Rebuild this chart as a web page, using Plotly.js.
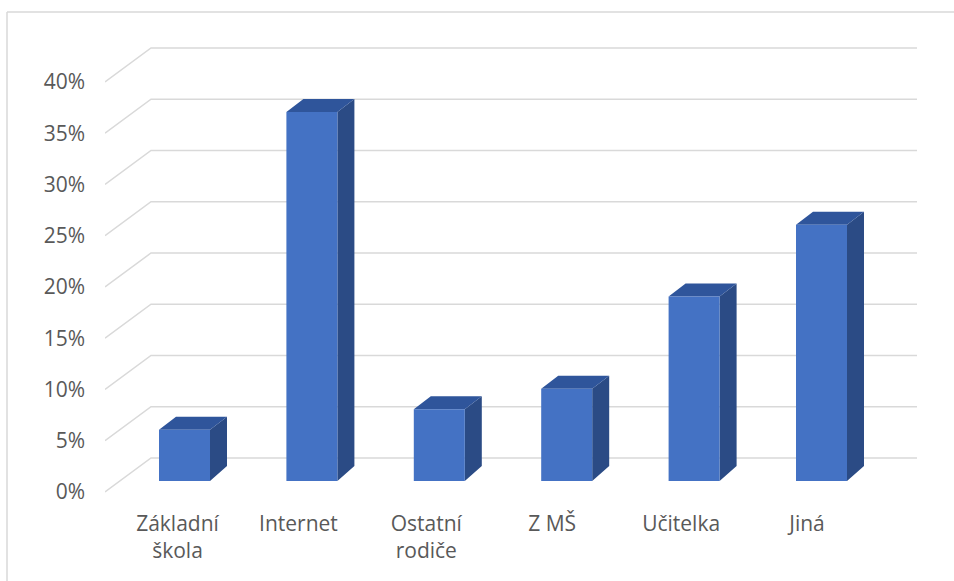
<!DOCTYPE html>
<html>
<head>
<meta charset="utf-8">
<script src="https://cdn.plot.ly/plotly-3.0.1.min.js"></script>
<style>html,body{margin:0;padding:0;background:#fff;}#chart{width:954px;height:581px;}</style>
</head>
<body>
<div id="chart"></div>
<script>
// ---- data ----
var categories = ["Základní<br>škola", "Internet", "Ostatní<br>rodiče", "Z MŠ", "Učitelka", "Jiná"];
var values = [0.05, 0.36, 0.07, 0.09, 0.18, 0.25];
var tickValues = [0, 0.05, 0.10, 0.15, 0.20, 0.25, 0.30, 0.35, 0.40];
var tickLabels = ["0%", "5%", "10%", "15%", "20%", "25%", "30%", "35%", "40%"];

// ---- geometry (pixel based conversions) ----
var W = 954, H = 581;
var mL = 105, mR = 37, mT = 40, mB = 81;
var pxPerX = 127.4, x0px = 184.5;      // category index -> px
var pxPerY = 1025, y0px = 481;         // value -> px (front plane of bars)
var xRange = [(mL - x0px) / pxPerX, (W - mR - x0px) / pxPerX];
var yRange = [(y0px - (H - mB)) / pxPerY, (y0px - mT) / pxPerY];
function dX(px) { return px / pxPerX; }
function dY(px) { return px / pxPerY; }

var barW = dX(51), depthX = dX(17), depthTop = dY(13), depthBot = dY(15);
var wallFrontY = dY(-11), wallBackY = dY(23), wallBackX = (151 - x0px) / pxPerX;
// category labels sit on the front edge of the floor (perspective shift, px)
var labelShift = [-7, -13.5, -13, -14.5, -13, -14.5];

// gridlines on the back wall / side wall
var gx = [], gy = [];
tickValues.forEach(function (t) {
  gx.push(xRange[0], wallBackX, xRange[1], null);
  gy.push(t + wallFrontY, t + wallBackY, t + wallBackY, null);
});

var fx = [], fy = [], tx = [], ty = [], sx = [], sy = [];
values.forEach(function (v, i) {
  var l = i - barW / 2, r = i + barW / 2;
  fx.push(l, r, r, l, l, null); fy.push(0, 0, v, v, 0, null);
  tx.push(l, l + depthX, r + depthX, r, l, null); ty.push(v, v + depthTop, v + depthTop, v, v, null);
  sx.push(r, r + depthX, r + depthX, r, r, null); sy.push(0, depthBot, v + depthTop, v, 0, null);
});

var labelPos = categories.map(function (c, i) { return i + dX(labelShift[i]); });

var traces = [
  {x: gx, y: gy, mode: "lines", line: {color: "#D9D9D9", width: 1.5}, hoverinfo: "skip", showlegend: false},
  {x: sx, y: sy, mode: "lines", fill: "toself", fillcolor: "#2B4B85", line: {width: 0, color: "rgba(0,0,0,0)"}, hoverinfo: "skip", showlegend: false},
  {x: tx, y: ty, mode: "lines", fill: "toself", fillcolor: "#2F559B", line: {width: 0, color: "rgba(0,0,0,0)"}, hoverinfo: "skip", showlegend: false},
  {x: fx, y: fy, mode: "lines", fill: "toself", fillcolor: "#4472C4", line: {width: 0, color: "rgba(0,0,0,0)"}, hoverinfo: "skip", showlegend: false}
];

var font = {family: "'Open Sans', Lato, sans-serif", size: 21, color: "#595959"};
var layout = {
  width: W, height: H,
  margin: {l: mL, r: mR, t: mT, b: mB, pad: 0},
  paper_bgcolor: "#ffffff", plot_bgcolor: "#ffffff",
  font: font,
  showlegend: false,
  xaxis: {range: xRange, showgrid: false, zeroline: false, showline: false,
          tickmode: "array", tickvals: labelPos, ticktext: categories, ticks: "",
          ticklabelstandoff: 9, tickfont: font, fixedrange: true},
  yaxis: {range: yRange, showgrid: false, zeroline: false, showline: false,
          tickmode: "array", tickvals: tickValues.map(function (t) { return t + wallFrontY; }),
          ticktext: tickLabels, ticks: "", ticklabelstandoff: 19, tickfont: font, fixedrange: true},
  shapes: [
    {type: "line", xref: "paper", yref: "paper", x0: (7 - mL) / (W - mL - mR), x1: 1.2,
     y0: (H - mB - 12) / (H - mT - mB), y1: (H - mB - 12) / (H - mT - mB), line: {color: "#D9D9D9", width: 1.5}},
    {type: "line", xref: "paper", yref: "paper", x0: (7 - mL) / (W - mL - mR), x1: (7 - mL) / (W - mL - mR),
     y0: (H - mB - 12) / (H - mT - mB), y1: -0.5, line: {color: "#D9D9D9", width: 1.5}}
  ]
};
Plotly.newPlot("chart", traces, layout, {displayModeBar: false, staticPlot: true});
</script>
</body>
</html>
